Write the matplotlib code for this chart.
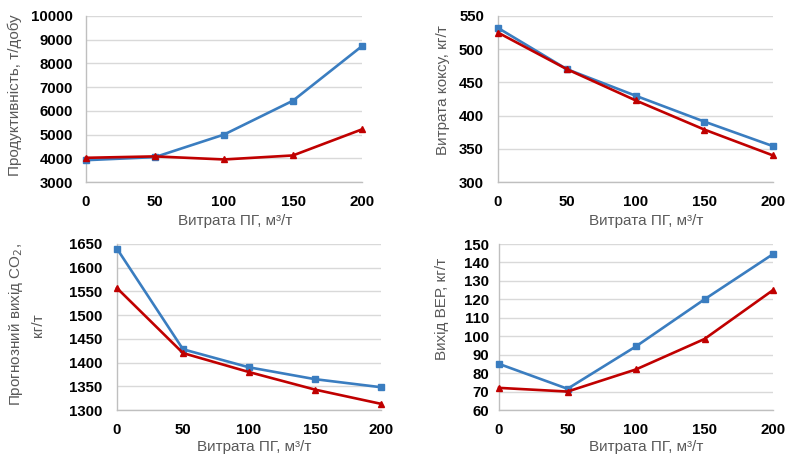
import matplotlib
matplotlib.use("Agg")
import matplotlib.pyplot as plt

plt.rcParams['font.family'] = ['Liberation Sans', 'DejaVu Sans']

x = [0, 50, 100, 150, 200]

prod_blue = [3920, 4050, 5000, 6430, 8730]
prod_red = [4020, 4080, 3950, 4120, 5220]

coke_blue = [532, 470, 430, 391, 354]
coke_red = [525, 470, 423, 379, 340]

co2_blue = [1640, 1428, 1390, 1365, 1348]
co2_red = [1557, 1420, 1380, 1343, 1313]

ver_blue = [85, 71.5, 94.5, 120, 144.5]
ver_red = [72, 70, 82, 98.5, 125]

xlabel = "Витрата ПГ, м³/т"

W, H = 788, 457
fig = plt.figure(figsize=(W / 100, H / 100), dpi=100)

BLUE = '#3A7DC0'
RED = '#C00000'
LABEL = '#595959'

def make_ax(x0, x1, ytop, ybot, blue, red, ylim, yticks, ylabel,
            ypad_px, ylab_xy, xlab_xy):
    ax = fig.add_axes([x0 / W, (H - ybot) / H, (x1 - x0) / W, (ybot - ytop) / H])
    ax.plot(x, blue, color=BLUE, lw=1.9, marker='s', ms=4.5, zorder=3, clip_on=False)
    ax.plot(x, red, color=RED, lw=1.9, marker='^', ms=4.5, zorder=3, clip_on=False)
    ax.set_xlim(0, 200)
    ax.set_ylim(*ylim)
    ax.set_yticks(yticks)
    ax.set_xticks(x)
    ax.grid(axis='y', color='#D9D9D9', lw=1)
    ax.set_axisbelow(True)
    for s in ['top', 'right']:
        ax.spines[s].set_visible(False)
    for s in ['left', 'bottom']:
        ax.spines[s].set_color('#BFBFBF')
        ax.spines[s].set_linewidth(1)
    ax.tick_params(axis='y', length=0, labelsize=10.8, pad=ypad_px * 0.72)
    ax.tick_params(axis='x', length=0, labelsize=10.8, pad=9)
    for lab in ax.get_xticklabels() + ax.get_yticklabels():
        lab.set_fontweight('bold')
    fig.text(ylab_xy[0] / W, 1 - ylab_xy[1] / H, ylabel, rotation=90,
             ha='center', va='center', fontsize=11, color=LABEL,
             multialignment='center', linespacing=1.5)
    fig.text(xlab_xy[0] / W, 1 - xlab_xy[1] / H, xlabel,
             ha='center', va='center', fontsize=11, color=LABEL)
    return ax

make_ax(86, 362, 16, 182, prod_blue, prod_red, (3000, 10000),
        range(3000, 10001, 1000), "Продуктивність, т/добу",
        13, (15, 95), (235, 221))
make_ax(498, 773, 16, 182, coke_blue, coke_red, (300, 550),
        range(300, 551, 50), "Витрата коксу, кг/т",
        14, (443, 90), (646, 221))
make_ax(117, 381, 244, 410, co2_blue, co2_red, (1300, 1650),
        range(1300, 1651, 50), "Прогнозний вихід CO$_2$,\nкг/т",
        15, (26, 325), (254, 447))
make_ax(499, 773, 244, 410, ver_blue, ver_red, (60, 150),
        range(60, 151, 10), "Вихід ВЕР, кг/т",
        10, (442, 309), (646, 447))

fig.savefig("out.png", dpi=100)
